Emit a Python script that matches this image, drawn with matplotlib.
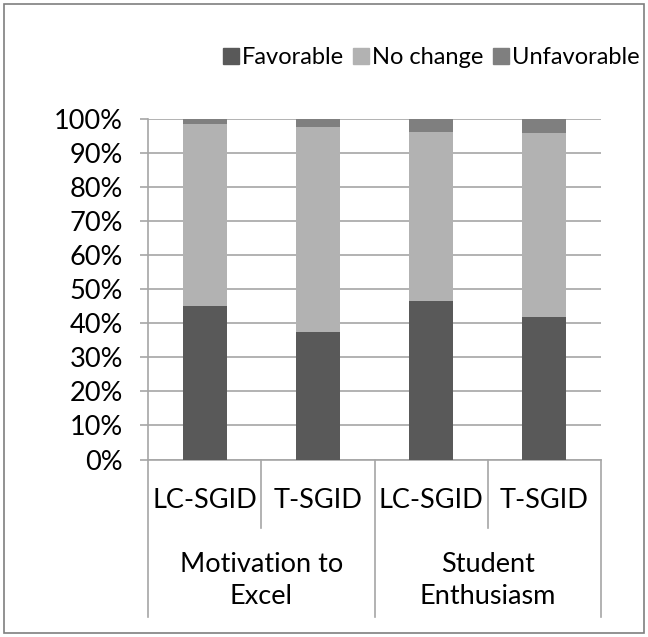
import numpy as np
import matplotlib
matplotlib.use("Agg")
import matplotlib.pyplot as plt
from matplotlib.patches import Rectangle
from matplotlib.lines import Line2D

plt.rcParams['font.family'] = ['Lato', 'DejaVu Sans']

groups = ["Motivation to\nExcel", "Student\nEnthusiasm"]
subcats = ["LC-SGID", "T-SGID", "LC-SGID", "T-SGID"]
favorable = [45.2, 37.6, 46.6, 41.8]
no_change = [53.5, 60.0, 49.8, 54.3]
unfavorable = [1.3, 2.4, 3.6, 3.9]
series = ["Favorable", "No change", "Unfavorable"]
colors = ["#595959", "#b2b2b2", "#7f7f7f"]
yticks = list(range(0, 101, 10))

FS = 19.5
W, H = 648, 637
fig = plt.figure(figsize=(W / 100, H / 100), dpi=100)
ax = fig.add_axes([148 / W, 1 - 459.5 / H, (601 - 148) / W, (459.5 - 119.3) / H])

x = np.arange(len(subcats))
bottom = np.zeros(len(subcats))
handles = []
for vals, c, name in zip([favorable, no_change, unfavorable], colors, series):
    vals = np.array(vals) / 100
    ax.bar(x, vals, width=0.39, bottom=bottom, color=c, zorder=3, label=name)
    bottom += vals
    handles.append(Line2D([], [], marker="s", ls="", color=c, markersize=11))

ax.set_xlim(-0.5, len(subcats) - 0.5)
ax.set_ylim(0, 1)
ax.set_yticks([t / 100 for t in yticks])
ax.set_yticklabels([f"{t}%" for t in yticks], fontsize=FS)
ax.yaxis.grid(True, color="#a6a6a6", lw=1.2, zorder=0)
ax.set_xticks([])
for s in ["top", "right"]:
    ax.spines[s].set_visible(False)
for s in ["left", "bottom"]:
    ax.spines[s].set_color("#a6a6a6")
    ax.spines[s].set_linewidth(1.2)
ax.tick_params(axis="y", length=6, color="#a6a6a6", width=1.2, pad=12)

# multi-level category axis
tr = ax.get_xaxis_transform()
ax_h = (459.5 - 119.3)
def yf(py):
    return (459.5 - py) / ax_h
for i, lab in enumerate(subcats):
    ax.text(i, yf(500), lab, transform=tr, ha="center", va="center", fontsize=FS, clip_on=False)
for b in [0.5, 2.5]:
    ax.plot([b, b], [0, yf(528)], transform=tr, color="#a6a6a6", lw=1.2, clip_on=False)
for b in [-0.5, 1.5, 3.5]:
    ax.plot([b, b], [0, yf(617)], transform=tr, color="#a6a6a6", lw=1.2, clip_on=False)
for g, lab in enumerate(groups):
    ax.text(2 * g + 0.5, yf(581), lab, transform=tr, ha="center", va="center",
            fontsize=FS, linespacing=1.35, clip_on=False)

fig.legend(handles, series, loc="center", bbox_to_anchor=(432 / W, 1 - 58 / H), ncol=3,
           frameon=False, fontsize=17, handlelength=0.55, handletextpad=0.2,
           columnspacing=0.45, borderaxespad=0, borderpad=0)

fig.patches.append(Rectangle((4 / W, 4 / H), 1 - 8 / W, 1 - 8 / H, transform=fig.transFigure,
                             fill=False, edgecolor="#7f7f7f", lw=1.2))

fig.savefig("out.png", dpi=100)
